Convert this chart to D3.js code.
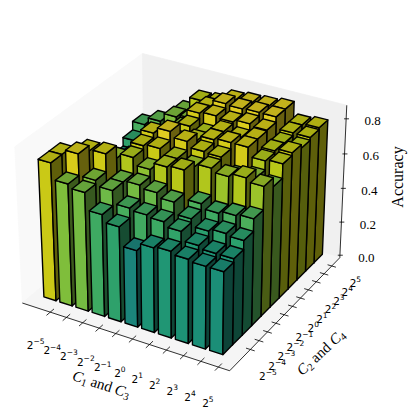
<!DOCTYPE html>
<html><head><meta charset="utf-8"><script src="https://cdnjs.cloudflare.com/ajax/libs/d3/7.8.5/d3.min.js"></script>
<style>html,body{margin:0;background:#fff}svg{display:block}</style></head><body><svg id="c" width="420" height="420"></svg>
<script>
const xTickExp=[-5,-4,-3,-2,-1,0,1,2,3,4,5];
const yTickExp=[-5,-4,-3,-2,-1,0,1,2,3,4,5];
const zTicks=[0,0.2,0.4,0.6,0.8];
const row0=[.79,.70,.68,.585,.545,.44,.485,.495,.48,.47,.47];
const row1=[.79,.82,.70,.67,.60,.59,.58,.555,.505,.49,.49];
const row2=[.72,.79,.80,.67,.68,.665,.64,.575,.535,.55,.54];
const row3=[.65,.70,.73,.76,.72,.76,.77,.61,.585,.60,.61];
const row4=[.62,.66,.66,.78,.79,.76,.74,.76,.74,.76,.74];
const row5=[.55,.58,.60,.805,.84,.81,.78,.775,.69,.71,.69];
const row6=[.54,.57,.61,.69,.74,.77,.80,.81,.81,.76,.77];
const row7=[.50,.53,.63,.68,.78,.76,.80,.79,.81,.77,.785];
const row8=[.55,.53,.63,.70,.81,.82,.81,.825,.815,.765,.765];
const row9=[.60,.645,.695,.71,.80,.845,.84,.845,.845,.78,.78];
const row10=[.52,.56,.685,.77,.78,.82,.83,.835,.845,.78,.79];
const rows=[row0,row1,row2,row3,row4,row5,row6,row7,row8,row9,row10];
const colorDomain=[.44,.49,.74,.78,.84], colorRange=[.53,.6,.88,.95,1];
const barW=.76, barD=1;
const xLim=[-.645,11.74], yLim=[-1.05,11.15], zLim=[0,.89];
const xTickPos=i=>i+1.1, yTickPos=j=>1.08+.91*j, yLabelPos=j=>-.43+.98*j;

const pb=[1.1905,1.1905,.8929];
const x3=d3.scaleLinear().domain(xLim).range([0,pb[0]]);
const y3=d3.scaleLinear().domain(yLim).range([0,pb[1]]);
const z3=d3.scaleLinear().domain(zLim).range([0,pb[2]]);
const px=d3.scaleLinear().domain([0,1]).range([184,184+1995]);
const py=d3.scaleLinear().domain([0,1]).range([204.5,204.5-1995]);
function proj(x,y,z){
  const a=x3(x)-pb[0]/2,b=y3(y)-pb[1]/2,c=z3(z)-pb[2]/2;
  const U=.8660254*a+.5*b, V=-.25*a+.4330127*b+.8660254*c, W=.4330127*a-.75*b+.5*c, d=10-W;
  return [px(U/d),py(V/d)];
}
const svg=d3.select('#c');
const line=pts=>'M'+pts.map(p=>proj(...p).map(v=>v.toFixed(2)).join(',')).join('L')+'Z';
const [x0,x1]=xLim,[y0,y1]=yLim,[z0,z1]=zLim;
[[[x0,y0,z0],[x0,y1,z0],[x0,y1,z1],[x0,y0,z1],'#f9f9f9'],
 [[x0,y1,z0],[x1,y1,z0],[x1,y1,z1],[x0,y1,z1],'#f0f0f0'],
 [[x0,y0,z0],[x1,y0,z0],[x1,y1,z0],[x0,y1,z0],'#f5f5f5']].forEach(f=>{
  svg.append('path').attr('d',line(f.slice(0,4))).attr('fill',f[4]).attr('stroke',f[4]).attr('stroke-width',.8);
});
const shade={front:.8833,right:.4167,top:.7667};
const colorPos=d3.scaleLinear().domain(colorDomain).range(colorRange).clamp(true);
const shaded=(h,s)=>{const c=d3.rgb(d3.interpolateViridis(colorPos(h)));return d3.rgb(c.r*s,c.g*s,c.b*s).formatHex();};
const bars=[];
rows.forEach((r,j)=>r.forEach((h,i)=>bars.push({i,j,h})));
bars.sort((a,b)=>(b.j-a.j)||(a.i-b.i));
const g=svg.append('g').attr('stroke','#000').attr('stroke-width',1.4).attr('stroke-linejoin','round');
bars.forEach(b=>{
  const l=b.i,r=l+barW,f=b.j,k=f+barD,h=b.h;
  g.append('path').attr('d',line([[l,f,0],[r,f,0],[r,f,h],[l,f,h]])).attr('fill',shaded(h,shade.front));
  g.append('path').attr('d',line([[r,f,0],[r,k,0],[r,k,h],[r,f,h]])).attr('fill',shaded(h,shade.right));
  g.append('path').attr('d',line([[l,f,h],[r,f,h],[r,k,h],[l,k,h]])).attr('fill',shaded(h,shade.top));
});
function seg(a,b,w){const p=proj(...a),q=proj(...b);svg.append('line').attr('x1',p[0]).attr('y1',p[1]).attr('x2',q[0]).attr('y2',q[1]).attr('stroke','#000').attr('stroke-width',w||.8);}
seg([x0,y0,0],[x1,y0,0]);seg([x1,y0,0],[x1,y1,0]);seg([x1,y1,0],[x1,y1,z1]);
const sans='"DejaVu Sans"',serif='"Liberation Serif"';
function pow(x,y,e){
  const t=svg.append('text').attr('x',x).attr('y',y).attr('font-family',sans).attr('font-size',10.5).attr('fill','#000').attr('text-anchor','middle');
  t.append('tspan').text('2');
  t.append('tspan').attr('dy',-4.5).attr('font-size',7.5).text(e<0?'\u2212'+(-e):e);
}
xTickExp.forEach((e,i)=>{
  seg([xTickPos(i),y0-.35,0],[xTickPos(i),y0+.35,0]);
  const p=proj(xTickPos(i)+1.07,y0-2.92,0);pow(p[0],p[1]+3,e);
});
yTickExp.forEach((e,j)=>{
  seg([x1-.25,yTickPos(j),0],[x1+.25,yTickPos(j),0]);
  const p=proj(x1+1.81,yLabelPos(j),0);pow(p[0],p[1]+5,e);
});
zTicks.forEach(z=>{
  const a=proj(x1,y1,z);
  svg.append('line').attr('x1',a[0]-2).attr('y1',a[1]-2.5).attr('x2',a[0]+3).attr('y2',a[1]-2.5).attr('stroke','#000').attr('stroke-width',.8);
  svg.append('text').attr('x',a[0]+26.5).attr('y',a[1]+4).attr('font-family',serif).attr('font-size',13).attr('text-anchor','middle').text(z.toFixed(1));
});
function label(x,y,rot,a,b){
  const t=svg.append('text').attr('transform',`translate(${x},${y}) rotate(${rot})`).attr('text-anchor','middle').attr('font-family',serif).attr('font-size',15);
  t.append('tspan').attr('font-style','italic').text('C');
  t.append('tspan').attr('dy',2.5).attr('font-size',10.5).text(a);
  t.append('tspan').attr('dy',-2.5).text(' and ');
  t.append('tspan').attr('font-style','italic').text('C');
  t.append('tspan').attr('dy',2.5).attr('font-size',10.5).text(b);
}
label(100,389,18,'1','3');
label(324,356,-43,'2','4');
svg.append('text').attr('transform','translate(403,177) rotate(-90)').attr('text-anchor','middle').attr('font-family',serif).attr('font-size',16).text('Accuracy');
</script></body></html>
